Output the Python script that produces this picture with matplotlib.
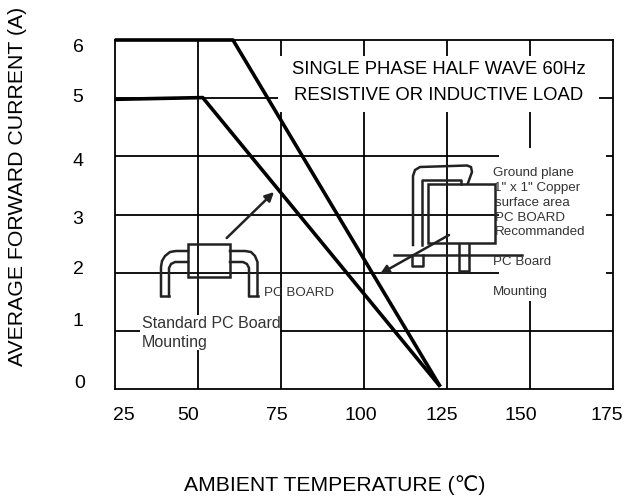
import matplotlib
matplotlib.use("Agg")
import matplotlib.pyplot as plt
from matplotlib.patches import Rectangle
from matplotlib.transforms import Affine2D

plt.rcParams['font.family'] = ['Liberation Sans', 'DejaVu Sans']

# derating curves
temp_upper = [25, 60.6, 123]
current_upper = [6, 6, 0.04]
temp_lower = [25, 51.5, 123]
current_lower = [4.98, 5.01, 0.04]

x_ticks = [25, 50, 75, 100, 125, 150, 175]
y_ticks = [0, 1, 2, 3, 4, 5, 6]

W, H = 625, 501
lw_grid = 1.3
lw_curve = 2.6
lw_wire = 1.8
col_small = '#333333'

fig = plt.figure(figsize=(W / 100, H / 100), dpi=100)
ax = fig.add_axes([114.7 / W, 1 - 389 / H, 498.3 / W, 349 / H])
ax.set_xlim(25, 175)
ax.set_ylim(0, 6)
ax.set_xticks([])
ax.set_yticks([])
for spine in ax.spines.values():
    spine.set_linewidth(lw_grid)
    spine.set_zorder(5)

# picture coordinates (y down), for the hand placed labels and drawings
px = Affine2D().scale(1, -1).translate(0, H)

# grid
ax.vlines(x_ticks[1:-1], 0, 6, color='k', lw=lw_grid, zorder=1)
ax.hlines(y_ticks[1:-1], 25, 175, color='k', lw=lw_grid, zorder=1)

# white boxes that break the grid behind the text
for x0, y0, x1, y1 in [(278, 56, 599, 112), (499, 148, 606, 301), (140, 315, 280, 350)]:
    ax.add_patch(Rectangle((x0, y0), x1 - x0, y1 - y0, fc='w', ec='none',
                           transform=px, zorder=2))

# curves
ax.plot(temp_upper, current_upper, color='k', lw=lw_curve, zorder=4, clip_on=False, solid_capstyle='butt')
ax.plot(temp_lower, current_lower, color='k', lw=lw_curve, zorder=4, clip_on=False, solid_capstyle='butt')


def wire(points, lw=lw_wire):
    xs = [p[0] for p in points]
    ys = [p[1] for p in points]
    ax.plot(xs, ys, color='#222222', lw=lw, transform=px, zorder=3, clip_on=False)


# left package
ax.add_patch(Rectangle((188, 244), 42, 33, fc='none', ec='#222222', lw=lw_wire, transform=px, zorder=3))
wire([(161, 296), (161, 267), (162, 261), (165, 256), (170, 252), (176, 251), (188, 251)])
wire([(169, 296), (169, 268), (171, 264), (175, 262), (188, 262)])
wire([(161, 296), (169, 296)])
wire([(230, 251), (245, 251), (251, 252), (255, 256), (257.5, 262), (257.5, 296)])
wire([(230, 262), (243, 262), (247, 264), (249, 268), (249, 296)])
wire([(249, 296), (257.5, 296)])

# right package
ax.add_patch(Rectangle((428, 184), 67, 59, fc='none', ec='#222222', lw=lw_wire, transform=px, zorder=3))
wire([(413, 245), (413, 176), (415, 170), (420, 167), (467, 165.5), (471, 167), (472, 172), (468, 183)])
wire([(422, 245), (422, 180), (461, 180), (461, 184)])
wire([(394, 255), (522, 255)])
wire([(412, 255), (412, 266), (423, 266), (423, 255)])
wire([(459, 244), (459, 271), (469, 271), (469, 244)])

# arrows
for start, end in [((226.7, 238), (274, 192)), ((449, 235), (380, 274))]:
    ax.annotate('', xy=end, xytext=start, xycoords=px, textcoords=px, zorder=3,
                arrowprops=dict(arrowstyle='-|>', color='#222222', lw=lw_wire,
                                shrinkA=0, shrinkB=0, mutation_scale=13))

# tick labels sit off their grid lines in the original
x_label_px = [123.5, 188, 276.5, 361, 442, 520.5, 606.5]
y_label_px = [383, 322, 269, 220, 162, 97, 47]
y_label_x = [80, 78, 78, 78, 78, 78, 78]
for v, x in zip(x_ticks, x_label_px):
    ax.text(x, 415, str(v), transform=px, fontsize=14, ha='center', va='center', clip_on=False)
for v, x, y in zip(y_ticks, y_label_x, y_label_px):
    ax.text(x, y, str(v), transform=px, fontsize=14, ha='center', va='center', clip_on=False)

ax.text(18, 186, 'AVERAGE FORWARD CURRENT (A)', transform=px, fontsize=15.3, rotation=90,
        ha='center', va='center', clip_on=False)
ax.text(334.5, 485, 'AMBIENT TEMPERATURE (℃)', transform=px, fontsize=15.2,
        ha='center', va='center', clip_on=False)

ax.text(439, 70, 'SINGLE PHASE HALF WAVE 60Hz', transform=px, fontsize=13.3, ha='center', va='center', zorder=6)
ax.text(439, 95, 'RESISTIVE OR INDUCTIVE LOAD', transform=px, fontsize=13.3, ha='center', va='center', zorder=6)

# small notes
notes = [
    (264, 293, 'PC BOARD', 9.6),
    (142, 324, 'Standard PC Board', 11.5),
    (142, 342, 'Mounting', 11.5),
    (493, 173, 'Ground plane', 9.6),
    (494, 188, '1" x 1" Copper', 9.6),
    (495, 203, 'surface area', 9.6),
    (495, 218, 'PC BOARD', 9.6),
    (495, 232, 'Recommanded', 9.6),
    (493, 262, 'PC Board', 9.6),
    (493, 292, 'Mounting', 9.6),
]
for x, y, s, size in notes:
    ax.text(x, y, s, transform=px, fontsize=size, color=col_small, ha='left', va='center', zorder=6)

fig.savefig('out.png', dpi=100)
